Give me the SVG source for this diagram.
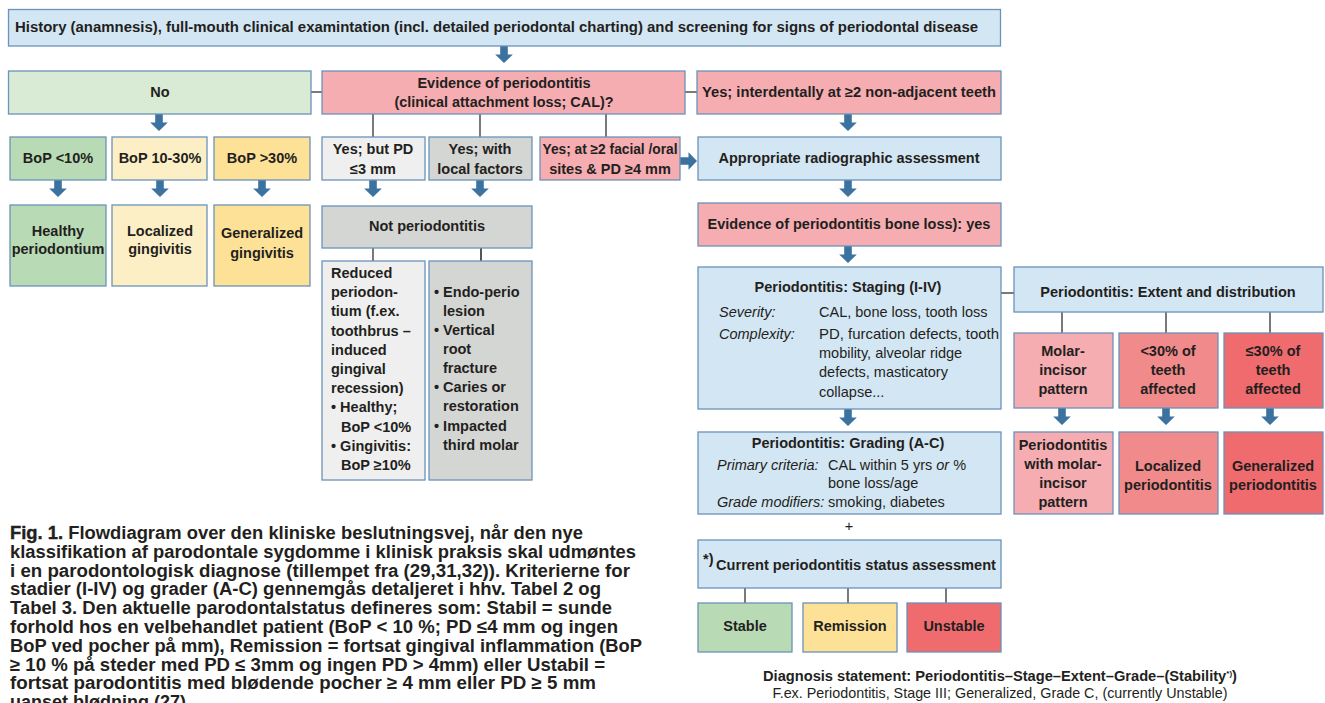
<svg xmlns="http://www.w3.org/2000/svg" xmlns:xlink="http://www.w3.org/1999/xlink" width="1325" height="703" viewBox="0 0 1325 703">
<style>
text{font-family:"Liberation Sans",Arial,sans-serif;font-weight:bold;font-size:14.5px;fill:#231f20}
.c{text-anchor:middle}
.r{font-weight:normal}
.i{font-weight:normal;font-style:italic}
.cap{font-size:18px}
.b{stroke:#6b93bb;stroke-width:1.3}
.blue{fill:#d3e6f4}
.pale{fill:#d9ead5}
.grn{fill:#b8dbb5}
.ly{fill:#fdefc5}
.yl{fill:#fde196}
.pk{fill:#f5adb1}
.md{fill:#f18a8b}
.rd{fill:#ef6b6e}
.lg{fill:#efefef}
.gy{fill:#d4d6d4}
.ln{stroke:#231f20;stroke-width:1.2;fill:none}
</style>
<defs>
<path id="ad" d="M-3.8,0 H3.8 V8.5 H8.8 L0,17 L-8.8,8.5 H-3.8 Z" fill="#3b72a0"/>
</defs>
<rect width="1325" height="703" fill="#ffffff"/>

<g id="connectors">
<line class="ln" x1="311" y1="92" x2="322" y2="92"/>
<line class="ln" x1="685" y1="92" x2="697" y2="92"/>
<line class="ln" x1="373" y1="114" x2="373" y2="137"/>
<line class="ln" x1="480" y1="114" x2="480" y2="137"/>
<line class="ln" x1="606" y1="114" x2="606" y2="137"/>
<line class="ln" x1="373" y1="248" x2="373" y2="261"/>
<line x1="481" y1="248" x2="481" y2="261" stroke="#555" stroke-width="2"/>
<line class="ln" x1="1001" y1="293" x2="1014" y2="293"/>
<line class="ln" x1="1062" y1="312" x2="1062" y2="333"/>
<line class="ln" x1="1166" y1="312" x2="1166" y2="333"/>
<line class="ln" x1="1270" y1="312" x2="1270" y2="333"/>
<line class="ln" x1="745" y1="588" x2="745" y2="603"/>
<line class="ln" x1="848" y1="588" x2="848" y2="603"/>
<line class="ln" x1="946" y1="588" x2="946" y2="603"/>
<use href="#ad" x="504" y="46"/>
<use href="#ad" x="159" y="114"/>
<use href="#ad" x="58" y="180"/>
<use href="#ad" x="160" y="180"/>
<use href="#ad" x="262" y="180"/>
<use href="#ad" x="373" y="180"/>
<use href="#ad" x="480" y="180"/>
<use href="#ad" transform="translate(680,161) rotate(-90)"/>
<use href="#ad" x="848" y="114"/>
<use href="#ad" x="848" y="180"/>
<use href="#ad" x="848" y="246"/>
<use href="#ad" x="848" y="409"/>
<use href="#ad" x="1062" y="408"/>
<use href="#ad" x="1166" y="408"/>
<use href="#ad" x="1270" y="408"/>
</g>

<g id="n-history">
<rect class="b blue" x="8.5" y="9.5" width="992" height="36.5"/>
<text x="15" y="32" textLength="963" lengthAdjust="spacingAndGlyphs">History (anamnesis), full-mouth clinical examintation (incl. detailed periodontal charting) and screening for signs of periodontal disease</text>
</g>

<g id="n-no">
<rect class="b pale" x="8.5" y="71" width="302.5" height="43"/>
<text class="c" x="160" y="97" font-size="15">No</text>
</g>

<g id="n-evidence">
<rect class="b pk" x="322" y="71" width="363" height="43"/>
<text class="c" x="504" y="88">Evidence of periodontitis</text>
<text class="c" x="504" y="107" textLength="219" lengthAdjust="spacingAndGlyphs">(clinical attachment loss; CAL)?</text>
</g>

<g id="n-yes-inter">
<rect class="b pk" x="697" y="71" width="304" height="43"/>
<text class="c" x="849" y="97" textLength="294" lengthAdjust="spacingAndGlyphs">Yes; interdentally at ≥2 non-adjacent teeth</text>
</g>

<g id="n-bop-lt10">
<rect class="b grn" x="10" y="137" width="96" height="43"/>
<text class="c" x="58" y="163">BoP &lt;10%</text>
</g>
<g id="n-bop-10-30">
<rect class="b ly" x="112" y="137" width="95" height="43"/>
<text class="c" x="160" y="163">BoP 10-30%</text>
</g>
<g id="n-bop-gt30">
<rect class="b yl" x="214" y="137" width="96" height="43"/>
<text class="c" x="262" y="163">BoP &gt;30%</text>
</g>

<g id="n-healthy">
<rect class="b grn" x="10" y="205" width="96" height="81"/>
<text class="c" x="58" y="236">Healthy</text>
<text class="c" x="58" y="254">periodontium</text>
</g>
<g id="n-loc-ging">
<rect class="b ly" x="112" y="205" width="95" height="81"/>
<text class="c" x="160" y="236">Localized</text>
<text class="c" x="160" y="254">gingivitis</text>
</g>
<g id="n-gen-ging">
<rect class="b yl" x="214" y="205" width="96" height="81"/>
<text class="c" x="262" y="238">Generalized</text>
<text class="c" x="262" y="258">gingivitis</text>
</g>

<g id="n-yes-pd3">
<rect class="b lg" x="322" y="137" width="103" height="43"/>
<text class="c" x="373" y="154">Yes; but PD</text>
<text class="c" x="373" y="174">≤3 mm</text>
</g>
<g id="n-yes-local">
<rect class="b gy" x="429" y="137" width="103" height="43"/>
<text class="c" x="480" y="154">Yes; with</text>
<text class="c" x="480" y="174">local factors</text>
</g>
<g id="n-yes-facial">
<rect class="b pk" x="540" y="137" width="140" height="43"/>
<text class="c" x="610" y="154" textLength="135" lengthAdjust="spacingAndGlyphs">Yes; at ≥2 facial /oral</text>
<text class="c" x="610" y="174">sites &amp; PD ≥4 mm</text>
</g>

<g id="n-notperio">
<rect class="b gy" x="322" y="206" width="210" height="42"/>
<text class="c" x="427" y="231">Not periodontitis</text>
</g>

<g id="n-reduced">
<rect class="b lg" x="322" y="261" width="103" height="219"/>
<text x="331" y="278">Reduced</text>
<text x="331" y="297">periodon-</text>
<text x="331" y="316">tium (f.ex.</text>
<text x="331" y="336">toothbrus –</text>
<text x="331" y="355">induced</text>
<text x="331" y="374">gingival</text>
<text x="331" y="393">recession)</text>
<text x="331" y="412">• Healthy;</text>
<text x="341" y="432">BoP &lt;10%</text>
<text x="331" y="451">• Gingivitis:</text>
<text x="341" y="470">BoP ≥10%</text>
</g>

<g id="n-other">
<rect class="b gy" x="429" y="261" width="103" height="219"/>
<text x="434" y="297">• Endo-perio</text>
<text x="443" y="316">lesion</text>
<text x="434" y="335">• Vertical</text>
<text x="443" y="354">root</text>
<text x="443" y="373">fracture</text>
<text x="434" y="392">• Caries or</text>
<text x="443" y="411">restoration</text>
<text x="434" y="431">• Impacted</text>
<text x="443" y="450">third molar</text>
</g>

<g id="n-radio">
<rect class="b blue" x="698" y="137" width="303" height="43"/>
<text class="c" x="849" y="163">Appropriate radiographic assessment</text>
</g>

<g id="n-boneloss">
<rect class="b pk" x="698" y="203" width="303" height="43"/>
<text class="c" x="849" y="229">Evidence of periodontitis bone loss): yes</text>
</g>

<g id="n-staging">
<rect class="b blue" x="698" y="267" width="303" height="142"/>
<text class="c" x="848" y="292">Periodontitis: Staging (I-IV)</text>
<text class="i" x="719" y="317">Severity:</text>
<text class="r" x="819" y="317">CAL, bone loss, tooth loss</text>
<text class="i" x="719" y="339">Complexity:</text>
<text class="r" x="819" y="339" textLength="180" lengthAdjust="spacingAndGlyphs">PD, furcation defects, tooth</text>
<text class="r" x="819" y="358">mobility, alveolar ridge</text>
<text class="r" x="819" y="377">defects, masticatory</text>
<text class="r" x="819" y="397">collapse...</text>
</g>

<g id="n-grading">
<rect class="b blue" x="698" y="432" width="303" height="82"/>
<text class="c" x="848" y="448">Periodontitis: Grading (A-C)</text>
<text class="i" x="717" y="470">Primary criteria:</text>
<text class="r" x="828" y="470">CAL within 5 yrs <tspan class="i">or</tspan> %</text>
<text class="r" x="828" y="488">bone loss/age</text>
<text class="i" x="717" y="507">Grade modifiers:</text>
<text class="r" x="828" y="507">smoking, diabetes</text>
</g>

<text class="r c" x="849" y="531" font-size="15">+</text>

<g id="n-status">
<rect class="b blue" x="698" y="540" width="303" height="48"/>
<text x="703" y="564" font-size="8">*)</text>
<text x="716" y="570" textLength="280" lengthAdjust="spacingAndGlyphs">Current periodontitis status assessment</text>
</g>
<g id="n-stable">
<rect class="b grn" x="698" y="603" width="94" height="49"/>
<text class="c" x="745" y="631">Stable</text>
</g>
<g id="n-remission">
<rect class="b yl" x="803" y="603" width="94" height="49"/>
<text class="c" x="850" y="631">Remission</text>
</g>
<g id="n-unstable">
<rect class="b rd" x="907" y="603" width="94" height="49"/>
<text class="c" x="954" y="631">Unstable</text>
</g>

<g id="n-extent">
<rect class="b blue" x="1014" y="267" width="309" height="45"/>
<text class="c" x="1168" y="297">Periodontitis: Extent and distribution</text>
</g>
<g id="n-mip">
<rect class="b pk" x="1014" y="333" width="99" height="75"/>
<text class="c" x="1063" y="356">Molar-</text>
<text class="c" x="1063" y="375">incisor</text>
<text class="c" x="1063" y="394">pattern</text>
</g>
<g id="n-lt30">
<rect class="b md" x="1119" y="333" width="99" height="75"/>
<text class="c" x="1168" y="356">&lt;30% of</text>
<text class="c" x="1168" y="375">teeth</text>
<text class="c" x="1168" y="394">affected</text>
</g>
<g id="n-le30">
<rect class="b rd" x="1224" y="333" width="99" height="75"/>
<text class="c" x="1273" y="356">≤30% of</text>
<text class="c" x="1273" y="375">teeth</text>
<text class="c" x="1273" y="394">affected</text>
</g>
<g id="n-perio-mip">
<rect class="b pk" x="1014" y="432" width="99" height="82"/>
<text class="c" x="1063" y="450">Periodontitis</text>
<text class="c" x="1063" y="469">with molar-</text>
<text class="c" x="1063" y="488">incisor</text>
<text class="c" x="1063" y="507">pattern</text>
</g>
<g id="n-loc-perio">
<rect class="b md" x="1119" y="432" width="99" height="82"/>
<text class="c" x="1168" y="471">Localized</text>
<text class="c" x="1168" y="490">periodontitis</text>
</g>
<g id="n-gen-perio">
<rect class="b rd" x="1224" y="432" width="99" height="82"/>
<text class="c" x="1273" y="471">Generalized</text>
<text class="c" x="1273" y="490">periodontitis</text>
</g>

<g id="diagnosis">
<text class="c" x="1000" y="681" font-size="13.5" textLength="474" lengthAdjust="spacingAndGlyphs">Diagnosis statement: Periodontitis–Stage–Extent–Grade–(Stability<tspan font-size="8" dy="-5">*)</tspan><tspan dy="5">)</tspan></text>
<text class="c r" x="1000" y="698" font-size="13.5" textLength="455" lengthAdjust="spacingAndGlyphs">F.ex. Periodontitis, Stage III; Generalized, Grade C, (currently Unstable)</text>
</g>

<g id="caption">
<text class="cap" x="10" y="539" textLength="573" lengthAdjust="spacingAndGlyphs"><tspan stroke="#231f20" stroke-width="0.4">Fig. 1.</tspan> Flowdiagram over den kliniske beslutningsvej, når den nye</text>
<text class="cap" x="10" y="557.8" textLength="626" lengthAdjust="spacingAndGlyphs">klassifikation af parodontale sygdomme i klinisk praksis skal udmøntes</text>
<text class="cap" x="10" y="576.6" textLength="620" lengthAdjust="spacingAndGlyphs">i en parodontologisk diagnose (tillempet fra (29,31,32)). Kriterierne for</text>
<text class="cap" x="10" y="595.4" textLength="591" lengthAdjust="spacingAndGlyphs">stadier (I-IV) og grader (A-C) gennemgås detaljeret i hhv. Tabel 2 og</text>
<text class="cap" x="10" y="614.2" textLength="602" lengthAdjust="spacingAndGlyphs">Tabel 3. Den aktuelle parodontalstatus defineres som: Stabil = sunde</text>
<text class="cap" x="10" y="633" textLength="608" lengthAdjust="spacingAndGlyphs">forhold hos en velbehandlet patient (BoP &lt; 10 %; PD ≤4 mm og ingen</text>
<text class="cap" x="10" y="651.8" textLength="632" lengthAdjust="spacingAndGlyphs">BoP ved pocher på mm), Remission = fortsat gingival inflammation (BoP</text>
<text class="cap" x="10" y="670.6" textLength="595" lengthAdjust="spacingAndGlyphs">≥ 10 % på steder med PD ≤ 3mm og ingen PD &gt; 4mm) eller Ustabil =</text>
<text class="cap" x="10" y="689.4" textLength="586" lengthAdjust="spacingAndGlyphs">fortsat parodontitis med blødende pocher ≥ 4 mm eller PD ≥ 5 mm</text>
<text class="cap" x="10" y="708.2">uanset blødning (27).</text>
</g>
</svg>
